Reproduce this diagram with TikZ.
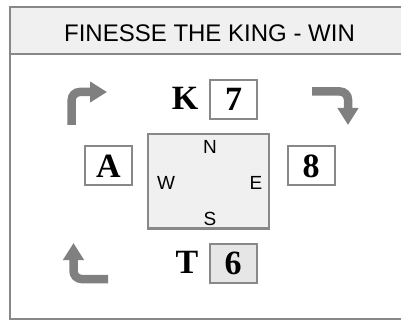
\documentclass[tikz,border=0pt]{standalone}
\usepackage{fontspec}
\setmainfont{Liberation Serif}
\setsansfont{Liberation Sans}
\usetikzlibrary{arrows.meta}
\definecolor{edgegray}{HTML}{888888}
\definecolor{arrowgray}{HTML}{808080}
\definecolor{panelfill}{HTML}{F0F0F0}
\definecolor{cardfill}{HTML}{E6E6E6}
\tikzset{
  frameline/.style={draw=edgegray, line width=2pt},
  cardbox/.style={draw=edgegray, line width=2pt, fill=white, minimum width=47pt, minimum height=39pt, inner sep=0pt, font=\fontsize{34}{36}\selectfont\bfseries},
  cardletter/.style={inner sep=0pt, font=\fontsize{34}{36}\selectfont\bfseries},
  compass/.style={inner sep=0pt, font=\sffamily\fontsize{19}{21}\selectfont},
  playarrow/.style={draw=arrowgray, line width=8.5pt, rounded corners=8pt, -{Triangle[length=17pt,width=20pt]}}
}
\begin{document}
\begin{tikzpicture}[x=1pt,y=-1pt]
\useasboundingbox (0,0) rectangle (401,320);
\clip (0,0) rectangle (401,320);
% frame
\fill[panelfill] (10,7) rectangle (420,54);
\draw[frameline] (10,7) rectangle (420,319);
\draw[frameline] (10,54) -- (420,54);
\node[inner sep=0pt, font=\sffamily\fontsize{24}{26}\selectfont] (title) at (209.5,33.5) {FINESSE THE KING - WIN};
% table
\node[frameline, fill=panelfill, minimum width=121pt, minimum height=94pt, inner sep=0pt] (table) at (208.5,181.5) {};
\node[compass] (north) at (210,147) {N};
\node[compass] (west) at (166,182.5) {W};
\node[compass] (east) at (256,183) {E};
\node[compass] (south) at (210,219) {S};
% cards
\node[cardletter] (k) at (185,98) {K};
\node[cardbox] (seven) at (233.5,99.5) {7};
\node[cardbox] (ace) at (108.5,166) {A};
\node[cardbox] (eight) at (311,166) {8};
\node[cardletter] (t) at (187,262) {T};
\node[cardbox, fill=cardfill] (six) at (233,263) {6};
% arrows
\coordinate (a1s) at (71.7,125);
\coordinate (a1c) at (71.7,92);
\coordinate (a1e) at (107,92);
\draw[playarrow] (a1s) -- (a1c) -- (a1e);
\coordinate (a2s) at (312,91.5);
\coordinate (a2c) at (348,91.5);
\coordinate (a2e) at (348,125);
\draw[playarrow] (a2s) -- (a2c) -- (a2e);
\coordinate (a3s) at (108,279);
\coordinate (a3c) at (73.5,279);
\coordinate (a3e) at (73.5,243);
\draw[playarrow] (a3s) -- (a3c) -- (a3e);
\end{tikzpicture}
\end{document}
